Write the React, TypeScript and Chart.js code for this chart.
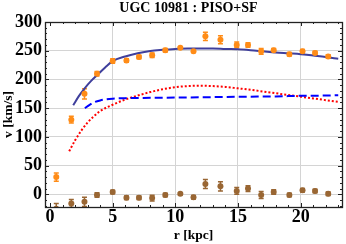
import React, { useEffect, useRef } from 'react';
import { Chart, registerables } from 'chart.js';

Chart.register(...registerables);

const titleText = 'UGC 10981 : PISO+SF';
const xAxisLabel = 'r [kpc]';
const yAxisLabel = 'v [km/s]';

const xTicks = [0, 5, 10, 15, 20];
const yTicks = [0, 50, 100, 150, 200, 250, 300];
const xMinorTicks = [0, 1, 2, 3, 4, 5, 6, 7, 8, 9, 10, 11, 12, 13, 14, 15, 16, 17, 18, 19, 20, 21, 22, 23];
const yMinorTicks = [-20, -10, 0, 10, 20, 30, 40, 50, 60, 70, 80, 90, 100, 110, 120, 130, 140, 150, 160, 170, 180, 190, 200, 210, 220, 230, 240, 250, 260, 270, 280, 290, 300];

// observed rotation curve
const rObs = [0.5, 1.7, 2.75, 3.75, 5.0, 6.1, 7.1, 8.15, 9.2, 10.4, 11.45, 12.4, 13.6, 14.9, 15.8, 16.85, 17.85, 19.1, 20.15, 21.15, 22.2];
const vObs = [30, 130, 175, 210, 232, 233, 239, 242, 251, 255, 249, 275, 269, 260, 260, 249, 251, 244, 249, 246, 240];
const vObsErr = [7, 6, 9, 4, 4, 3, 3, 4, 3, 2, 2, 7, 7, 5, 4, 5, 3, 3, 3, 3, 3];

// residuals
const vRes = [-25, -16, -13, -1, 4, -6, -6, -6.5, -1, 1, -5, 18, 14, 6, 10, -1, 4, -1, 7, 6, 1];
const vResErr = [9, 7, 8, 4, 3, 3, 3, 5, 3, 2, 3, 8, 8, 6, 5, 6, 4, 3, 3, 3, 3];

// total model
const rTotal = [1.85, 2.3, 2.78, 3.3, 3.83, 4.4, 5, 6, 7, 8, 9, 10, 11, 12, 13, 14, 15, 16, 17, 18, 19, 20, 21, 22, 23];
const vTotal = [155, 171, 185, 198, 209, 221, 232, 240, 245.5, 249.5, 251.5, 253, 254, 254, 254, 253, 252.5, 251, 249, 247, 245.5, 244, 241.5, 239, 236];

// halo (dashed)
const rHalo = [2.78, 3.1, 3.5, 4, 4.5, 5, 6, 8, 10, 12, 14, 16, 18, 20, 22, 23];
const vHalo = [150, 155, 160, 163.5, 165.5, 166.5, 167.5, 168, 168.5, 169, 169.5, 170, 170.5, 171.5, 172, 172.5];

// disk (dotted)
const rDisk = [1.53, 2, 2.5, 3, 3.5, 4, 5, 6, 7, 8, 9, 10, 11, 12, 13, 14, 15, 16, 17, 18, 19, 20, 21, 22, 23];
const vDisk = [75, 94, 111, 125, 136, 145, 156, 165, 172, 178, 183, 186.5, 188.5, 189, 188.5, 187, 184.5, 182, 179, 176, 173, 170, 167, 164, 161];

const ORANGE = '#ff8c17';
const BROWN = '#996633';
const NAVY = '#3f3f9c';
const BLUE = '#0000ff';
const RED = '#ff0000';
const FONT = "'Liberation Serif', 'Times New Roman', serif";

const pts = (xs: number[], ys: number[]) => xs.map((x, i) => ({ x, y: ys[i] }));

const titlePlugin = {
  id: 'plotTitle',
  afterDraw(chart: any) {
    const { ctx } = chart;
    ctx.save();
    ctx.fillStyle = '#000';
    ctx.font = `bold 14px ${FONT}`;
    ctx.textAlign = 'center';
    ctx.textBaseline = 'middle';
    ctx.fillText(titleText, 188.5, 8.5);
    ctx.restore();
  },
};

const errorBarPlugin = {
  id: 'errorBars',
  beforeDatasetsDraw(chart: any) {
    const { ctx, chartArea, scales } = chart;
    const xs = scales.x;
    const ys = scales.y;
    ctx.save();
    ctx.beginPath();
    ctx.rect(chartArea.left, chartArea.top, chartArea.right - chartArea.left, chartArea.bottom - chartArea.top);
    ctx.clip();
    const draw = (r: number[], v: number[], e: number[], color: string) => {
      ctx.strokeStyle = color;
      ctx.lineWidth = 1.5;
      for (let i = 0; i < r.length; i++) {
        const px = xs.getPixelForValue(r[i]);
        const y1 = ys.getPixelForValue(v[i] - e[i]);
        const y2 = ys.getPixelForValue(v[i] + e[i]);
        ctx.beginPath();
        ctx.moveTo(px, y1);
        ctx.lineTo(px, y2);
        ctx.moveTo(px - 2.5, y1);
        ctx.lineTo(px + 2.5, y1);
        ctx.moveTo(px - 2.5, y2);
        ctx.lineTo(px + 2.5, y2);
        ctx.stroke();
      }
    };
    draw(rObs, vObs, vObsErr, ORANGE);
    draw(rObs, vRes, vResErr, BROWN);
    ctx.restore();
  },
};

const framePlugin = {
  id: 'frameTicks',
  afterDraw(chart: any) {
    const { ctx, chartArea, scales } = chart;
    const { left, right, top, bottom } = chartArea;
    const xs = scales.x;
    const ys = scales.y;
    ctx.save();
    ctx.strokeStyle = '#222';
    ctx.lineWidth = 1;
    ctx.beginPath();
    for (const v of xMinorTicks) {
      const px = Math.round(xs.getPixelForValue(v)) + 0.5;
      const len = xTicks.includes(v) ? 4 : 2;
      ctx.moveTo(px, bottom);
      ctx.lineTo(px, bottom - len);
      ctx.moveTo(px, top);
      ctx.lineTo(px, top + len);
    }
    for (const v of yMinorTicks) {
      const py = Math.round(ys.getPixelForValue(v)) + 0.5;
      const len = yTicks.includes(v) ? 4 : 2;
      ctx.moveTo(left, py);
      ctx.lineTo(left + len, py);
      ctx.moveTo(right, py);
      ctx.lineTo(right - len, py);
    }
    ctx.stroke();
    ctx.lineWidth = 1.3;
    ctx.strokeRect(Math.round(left) + 0.5, Math.round(top) + 0.5, Math.round(right - left), Math.round(bottom - top));
    ctx.restore();
  },
};

export default function App() {
  const ref = useRef<HTMLCanvasElement | null>(null);
  useEffect(() => {
    if (!ref.current) return;
    const chart = new Chart(ref.current, {
      type: 'scatter',
      data: {
        datasets: [
          {
            label: 'observed',
            data: pts(rObs, vObs),
            backgroundColor: ORANGE,
            borderWidth: 0,
            pointRadius: 3,
            order: 0,
          } as any,
          {
            label: 'residuals',
            data: pts(rObs, vRes),
            backgroundColor: BROWN,
            borderWidth: 0,
            pointRadius: 3,
            order: 0,
          } as any,
          {
            label: 'total',
            data: pts(rTotal, vTotal),
            showLine: true,
            borderColor: NAVY,
            borderWidth: 2,
            pointRadius: 0,
            cubicInterpolationMode: 'monotone',
            order: 1,
          } as any,
          {
            label: 'halo',
            data: pts(rHalo, vHalo),
            showLine: true,
            borderColor: BLUE,
            borderWidth: 2,
            borderDash: [8, 4],
            pointRadius: 0,
            cubicInterpolationMode: 'monotone',
            order: 2,
          } as any,
          {
            label: 'disk',
            data: pts(rDisk, vDisk),
            showLine: true,
            borderColor: RED,
            borderWidth: 2,
            borderDash: [2, 2],
            pointRadius: 0,
            cubicInterpolationMode: 'monotone',
            order: 3,
          } as any,
        ],
      },
      options: {
        animation: false,
        responsive: false,
        devicePixelRatio: 1,
        layout: { padding: { left: 0, right: 3, top: 22, bottom: 0 } },
        plugins: {
          legend: { display: false },
          tooltip: { enabled: false },
          title: { display: false },
        },
        scales: {
          x: {
            type: 'linear',
            min: -0.4,
            max: 23.3,
            afterBuildTicks: (s: any) => {
              s.ticks = xTicks.map((v) => ({ value: v }));
            },
            afterFit: (s: any) => {
              s.height = 37;
            },
            grid: {
              color: (c: any) => (c.tick && c.tick.value === 0 ? 'rgba(0,0,0,0)' : '#d4d4d4'),
              drawTicks: false,
              lineWidth: 1,
            },
            border: { display: false },
            ticks: {
              color: '#000',
              padding: 1,
              maxRotation: 0,
              autoSkip: false,
              font: { family: FONT, size: 18, weight: 'bold', lineHeight: 1 },
            },
            title: {
              display: true,
              text: xAxisLabel,
              color: '#000',
              padding: 0,
              font: { family: FONT, size: 13.5, weight: 'bold', lineHeight: 1.2 },
            },
          },
          y: {
            type: 'linear',
            min: -22,
            max: 300,
            afterBuildTicks: (s: any) => {
              s.ticks = yTicks.map((v) => ({ value: v }));
            },
            afterFit: (s: any) => {
              s.width = 45;
            },
            grid: { color: '#d4d4d4', drawTicks: false, lineWidth: 1 },
            border: { display: false },
            ticks: {
              color: '#000',
              padding: 3,
              autoSkip: false,
              font: { family: FONT, size: 18, weight: 'bold', lineHeight: 1 },
            },
            title: {
              display: true,
              text: yAxisLabel,
              color: '#000',
              padding: 0,
              font: { family: FONT, size: 13.5, weight: 'bold', lineHeight: 1.2 },
            },
          },
        },
      } as any,
      plugins: [errorBarPlugin, framePlugin, titlePlugin],
    });
    return () => chart.destroy();
  }, []);
  return (
    <div style={{ position: 'absolute', left: 0, top: 0, width: 346, height: 244, background: '#fff' }}>
      <canvas ref={ref} width={346} height={244} />
    </div>
  );
}
